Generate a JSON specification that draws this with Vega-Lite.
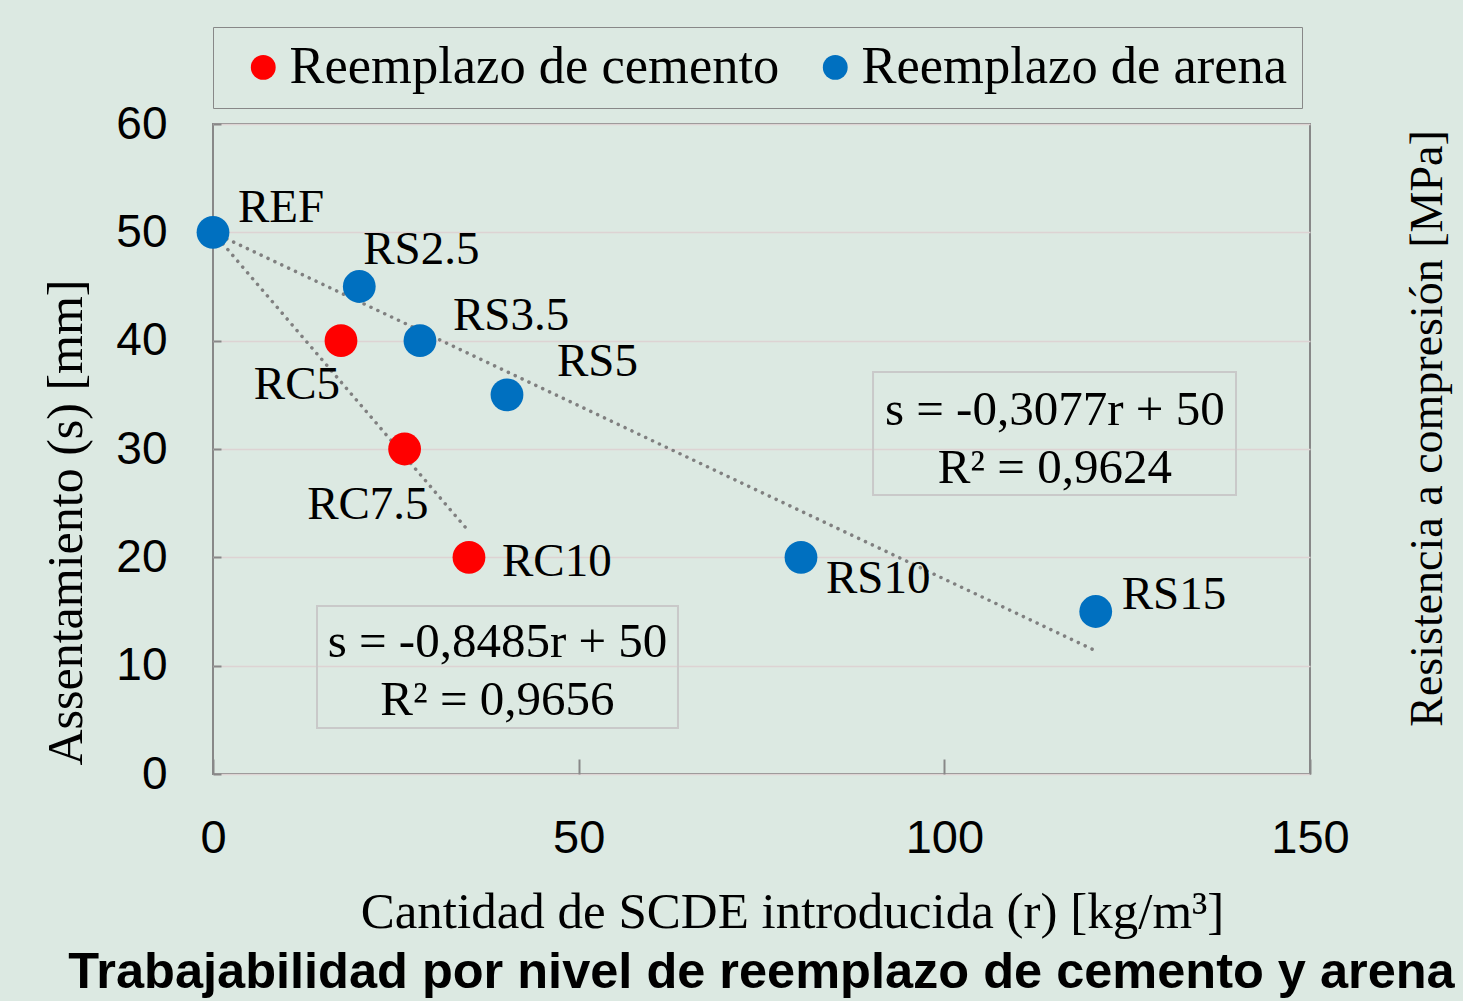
{
  "$schema": "https://vega.github.io/schema/vega-lite/v6.json",
  "width": 1097,
  "height": 650,
  "autosize": {"type": "none"},
  "padding": {"left": 213, "top": 124, "right": 153, "bottom": 227},
  "background": "#dce9e2",
  "config": {
    "view": {"stroke": "#888888", "strokeWidth": 2},
    "text": {"font": "Liberation Serif", "color": "black"}
  },
  "title": {
    "text": "Trabajabilidad por nivel de reemplazo de cemento y arena",
    "orient": "bottom",
    "anchor": "middle",
    "font": "Liberation Sans",
    "fontWeight": "bold",
    "fontSize": 50.5,
    "color": "black",
    "offset": 11
  },
  "datasets": {
    "puntos": [
      {"muestra": "REF", "grupo": "Reemplazo de arena", "r": 0, "s": 50},
      {"muestra": "RS2.5", "grupo": "Reemplazo de arena", "r": 20, "s": 45},
      {"muestra": "RS3.5", "grupo": "Reemplazo de arena", "r": 28.3, "s": 40},
      {"muestra": "RS5", "grupo": "Reemplazo de arena", "r": 40.2, "s": 35},
      {"muestra": "RS10", "grupo": "Reemplazo de arena", "r": 80.4, "s": 20},
      {"muestra": "RS15", "grupo": "Reemplazo de arena", "r": 120.7, "s": 15},
      {"muestra": "RC5", "grupo": "Reemplazo de cemento", "r": 17.5, "s": 40},
      {"muestra": "RC7.5", "grupo": "Reemplazo de cemento", "r": 26.2, "s": 30},
      {"muestra": "RC10", "grupo": "Reemplazo de cemento", "r": 35, "s": 20}
    ],
    "tendencias": [
      {"serie": "cemento", "r": 0, "s": 50},
      {"serie": "cemento", "r": 34.6, "s": 22.7},
      {"serie": "arena", "r": 0, "s": 50},
      {"serie": "arena", "r": 120.6, "s": 11.4}
    ],
    "ecuaciones": [
      {"r": 115.1, "s": 32.2, "texto": "s = -0,3077r + 50"},
      {"r": 115.1, "s": 26.9, "texto": "R² = 0,9624"},
      {"r": 38.9, "s": 10.8, "texto": "s = -0,8485r + 50"},
      {"r": 38.9, "s": 5.45, "texto": "R² = 0,9656"}
    ],
    "cajas": [
      {"r": 90.25, "r2": 139.88, "s": 37.11, "s2": 25.75},
      {"r": 14.22, "r2": 63.58, "s": 15.51, "s2": 4.25}
    ]
  },
  "layer": [
    {
      "layer": [
        {
          "data": {"name": "tendencias"},
          "mark": {"type": "line", "color": "#808080", "strokeWidth": 3.5, "strokeDash": [0.1, 7.5], "strokeCap": "round"},
          "encoding": {
            "x": {
              "field": "r", "type": "quantitative",
              "scale": {"domain": [0, 150], "nice": false, "zero": false},
              "axis": {
                "values": [0, 50, 100, 150],
                "title": "Cantidad de SCDE introducida (r) [kg/m³]",
                "titleFont": "Liberation Serif", "titleFontSize": 51, "titleFontWeight": "normal", "titleColor": "black",
                "titleX": 579, "titleY": 153, "titleBaseline": "alphabetic", "titleAlign": "center",
                "labelFont": "Liberation Sans", "labelFontSize": 47, "labelColor": "black",
                "labelPadding": 56, "labelBaseline": "top", "labelFlush": false,
                "ticks": true, "tickSize": -15, "tickColor": "#888888", "tickWidth": 2,
                "domain": false, "grid": false
              }
            },
            "y": {
              "field": "s", "type": "quantitative",
              "scale": {"domain": [0, 60], "nice": false, "zero": false},
              "axis": {
                "values": [0, 10, 20, 30, 40, 50, 60],
                "title": "Assentamiento (s) [mm]",
                "titleFont": "Liberation Serif", "titleFontSize": 50, "titleFontWeight": "normal", "titleColor": "black",
                "titleX": -132, "titleY": 398, "titleAngle": 270, "titleBaseline": "alphabetic", "titleAlign": "center",
                "labelFont": "Liberation Sans", "labelFontSize": 46, "labelColor": "black",
                "labelPadding": 54, "labelAlign": "right", "labelBaseline": "middle",
                "ticks": true, "tickSize": -8, "tickColor": "#888888", "tickWidth": 2,
                "domain": false, "grid": true, "gridColor": "#ddd3d3", "gridWidth": 1.5
              }
            },
            "detail": {"field": "serie"}
          }
        },
        {
          "data": {"name": "puntos"},
          "mark": {"type": "point", "filled": true, "opacity": 1, "size": 1075, "shape": "circle"},
          "encoding": {
            "x": {"field": "r", "type": "quantitative"},
            "y": {"field": "s", "type": "quantitative"},
            "color": {
              "field": "grupo", "type": "nominal",
              "scale": {"domain": ["Reemplazo de cemento", "Reemplazo de arena"], "range": ["#ff0000", "#0070c0"]},
              "legend": {
                "title": null, "orient": "none", "legendX": 0, "legendY": -97, "direction": "horizontal",
                "strokeColor": "#888888", "padding": 14, "symbolOffset": 10,
                "symbolType": "circle", "symbolSize": 615, "symbolStrokeWidth": 0,
                "labelFont": "Liberation Serif", "labelFontSize": 52.5, "labelColor": "black",
                "labelOffset": 0, "columnPadding": 19, "labelLimit": 1000
              }
            }
          }
        },
        {
          "data": {"name": "ecuaciones"},
          "mark": {"type": "text", "fontSize": 49, "align": "center", "baseline": "alphabetic"},
          "encoding": {
            "x": {"field": "r", "type": "quantitative"},
            "y": {"field": "s", "type": "quantitative"},
            "text": {"field": "texto"}
          }
        },
        {
          "data": {"name": "puntos"},
          "transform": [{"filter": "datum.muestra == 'REF'"}],
          "mark": {"type": "text", "fontSize": 47, "align": "left", "baseline": "alphabetic", "dx": 25, "dy": -10},
          "encoding": {"x": {"field": "r", "type": "quantitative"}, "y": {"field": "s", "type": "quantitative"}, "text": {"field": "muestra"}}
        },
        {
          "data": {"name": "puntos"},
          "transform": [{"filter": "datum.muestra == 'RS2.5'"}],
          "mark": {"type": "text", "fontSize": 47, "align": "left", "baseline": "alphabetic", "dx": 4, "dy": -23},
          "encoding": {"x": {"field": "r", "type": "quantitative"}, "y": {"field": "s", "type": "quantitative"}, "text": {"field": "muestra"}}
        },
        {
          "data": {"name": "puntos"},
          "transform": [{"filter": "datum.muestra == 'RS3.5'"}],
          "mark": {"type": "text", "fontSize": 47, "align": "left", "baseline": "alphabetic", "dx": 33, "dy": -11},
          "encoding": {"x": {"field": "r", "type": "quantitative"}, "y": {"field": "s", "type": "quantitative"}, "text": {"field": "muestra"}}
        },
        {
          "data": {"name": "puntos"},
          "transform": [{"filter": "datum.muestra == 'RS5'"}],
          "mark": {"type": "text", "fontSize": 47, "align": "left", "baseline": "alphabetic", "dx": 50, "dy": -19},
          "encoding": {"x": {"field": "r", "type": "quantitative"}, "y": {"field": "s", "type": "quantitative"}, "text": {"field": "muestra"}}
        },
        {
          "data": {"name": "puntos"},
          "transform": [{"filter": "datum.muestra == 'RS10'"}],
          "mark": {"type": "text", "fontSize": 47, "align": "left", "baseline": "alphabetic", "dx": 25, "dy": 36},
          "encoding": {"x": {"field": "r", "type": "quantitative"}, "y": {"field": "s", "type": "quantitative"}, "text": {"field": "muestra"}}
        },
        {
          "data": {"name": "puntos"},
          "transform": [{"filter": "datum.muestra == 'RS15'"}],
          "mark": {"type": "text", "fontSize": 47, "align": "left", "baseline": "alphabetic", "dx": 26, "dy": -3},
          "encoding": {"x": {"field": "r", "type": "quantitative"}, "y": {"field": "s", "type": "quantitative"}, "text": {"field": "muestra"}}
        },
        {
          "data": {"name": "puntos"},
          "transform": [{"filter": "datum.muestra == 'RC5'"}],
          "mark": {"type": "text", "fontSize": 47, "align": "right", "baseline": "alphabetic", "dx": -1, "dy": 58},
          "encoding": {"x": {"field": "r", "type": "quantitative"}, "y": {"field": "s", "type": "quantitative"}, "text": {"field": "muestra"}}
        },
        {
          "data": {"name": "puntos"},
          "transform": [{"filter": "datum.muestra == 'RC7.5'"}],
          "mark": {"type": "text", "fontSize": 47, "align": "right", "baseline": "alphabetic", "dx": 24, "dy": 70},
          "encoding": {"x": {"field": "r", "type": "quantitative"}, "y": {"field": "s", "type": "quantitative"}, "text": {"field": "muestra"}}
        },
        {
          "data": {"name": "puntos"},
          "transform": [{"filter": "datum.muestra == 'RC10'"}],
          "mark": {"type": "text", "fontSize": 47, "align": "left", "baseline": "alphabetic", "dx": 33, "dy": 19},
          "encoding": {"x": {"field": "r", "type": "quantitative"}, "y": {"field": "s", "type": "quantitative"}, "text": {"field": "muestra"}}
        }
      ]
    },
    {
      "data": {"name": "cajas"},
      "mark": {"type": "rect", "fill": null, "fillOpacity": 0, "stroke": "#c9c9c9", "strokeWidth": 2},
      "encoding": {
        "x": {"field": "r", "type": "quantitative"},
        "x2": {"field": "r2"},
        "y": {
          "field": "s", "type": "quantitative",
          "scale": {"domain": [0, 60], "nice": false, "zero": false},
          "axis": {
            "orient": "right", "labels": false, "ticks": false, "domain": false, "grid": false,
            "title": "Resistencia a compresión [MPa]",
            "titleFont": "Liberation Serif", "titleFontSize": 46, "titleFontWeight": "normal", "titleColor": "black",
            "titleX": 131, "titleY": 304, "titleAngle": 270, "titleBaseline": "alphabetic", "titleAlign": "center"
          }
        },
        "y2": {"field": "s2"}
      }
    }
  ],
  "resolve": {"scale": {"y": "independent"}}
}
